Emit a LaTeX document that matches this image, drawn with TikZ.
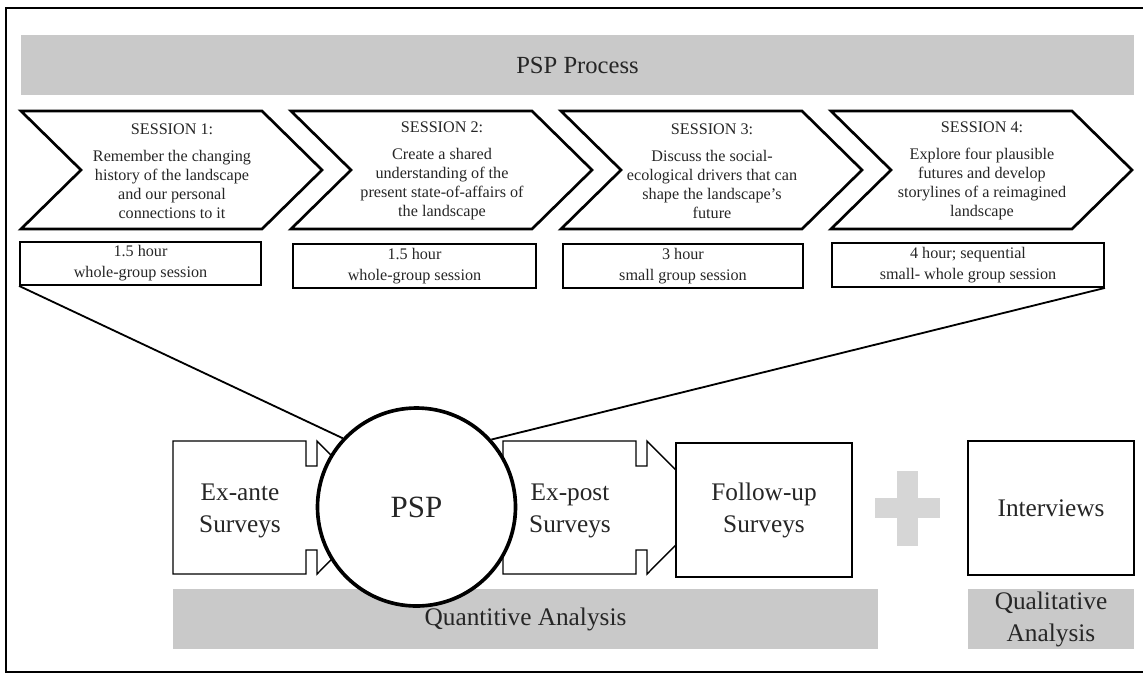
\documentclass[tikz,border=0pt]{standalone}
\usepackage{fontspec}
\setmainfont{Liberation Serif}
\usetikzlibrary{positioning}

\definecolor{bargray}{RGB}{201,201,201}
\definecolor{plusgray}{RGB}{214,214,214}
\definecolor{inkgray}{RGB}{38,38,38}

\tikzset{
  chevron/.style={draw=black, fill=white, line width=1.9pt, line join=miter},
  chevtext/.style={align=center, text=inkgray, font=\fontsize{11.5}{13.5}\selectfont},
  durbox/.style={draw, line width=1.3pt, inner sep=0pt, align=center, text=inkgray, font=\fontsize{11.5}{15}\selectfont},
  graybar/.style={fill=bargray, inner sep=0pt, align=center, text=inkgray, font=\fontsize{18}{22.7}\selectfont},
  survey/.style={draw, fill=white, line width=1pt},
  surveytext/.style={align=center, text=inkgray, font=\fontsize{18}{22.7}\selectfont},
  pspcircle/.style={circle, draw, fill=white, line width=2.6pt, inner sep=0pt, text=inkgray, font=\fontsize{22}{26}\selectfont},
  conn/.style={line width=1.3pt}
}

\begin{document}
\begin{tikzpicture}[x=0.025cm, y=-0.025cm]
 \def\u{0.025cm}
 \useasboundingbox (0,0) rectangle (1143,673);

 %frame
 \draw[line width=1.4pt] (6,8) rectangle (1152,672);

 %top bar
 \node[graybar, minimum width=1113*\u, minimum height=60*\u, font=\fontsize{17.5}{21}\selectfont] (procbar) at (577.5,65) {PSP Process};

 %sessions
 \foreach \i/\name in {1/{Remember the changing\\history of the landscape\\and our personal\\connections to it},
                       2/{Create a shared\\understanding of the\\present state-of-affairs of\\the landscape},
                       3/{Discuss the social-\\ecological drivers that can\\shape the landscape’s\\future},
                       4/{Explore four plausible\\futures and develop\\storylines of a reimagined\\landscape}} {
         \pgfmathsetmacro{\dx}{21+270*(\i-1)}
         \draw[chevron] (\dx,111) -- (\dx+241,111) -- (\dx+301,170) -- (\dx+241,229) -- (\dx,229) -- (\dx+60,170) -- cycle;
         \node[chevtext] (s\i) at (\dx+151,171) {SESSION \i:\\[5.5pt]\name};
 }

 %durations
 \foreach \i/\xa/\xb/\ya/\yb/\name in {1/20/261/242/285/{1.5 hour\\whole-group session},
                                       2/293/536/244/288/{1.5 hour\\whole-group session},
                                       3/563/803/244/288/{3 hour\\small group session},
                                       4/832/1104/243/287/{4 hour; sequential\\small- whole group session}} {
         \node[durbox, minimum width={(\xb-\xa)*\u}, minimum height={(\yb-\ya)*\u}] (d\i) at ({(\xa+\xb)/2},{(\ya+\yb)/2}) {\name};
 }

 %analysis bars
 \node[graybar, minimum width=705*\u, minimum height=60*\u] (quant) at (525.5,619) {\raisebox{-3pt}{Quantitive Analysis}};
 \node[graybar, minimum width=166*\u, minimum height=60*\u] (qual) at (1051,619) {Qualitative\\Analysis};

 %surveys
 \foreach \dx in {173, 503} {
         \draw[survey] (\dx,441) -- (\dx+133,441) -- (\dx+133,466) -- (\dx+144,466) -- (\dx+144,441) -- (\dx+210,507.5)
                       -- (\dx+144,574) -- (\dx+144,550) -- (\dx+133,550) -- (\dx+133,574) -- (\dx,574) -- cycle;
 }
 \node[surveytext] (exante) at (240,511) {Ex-ante\\Surveys};
 \node[surveytext] (expost) at (570,511) {Ex-post\\Surveys};
 \node[survey, surveytext, minimum width=176*\u, minimum height=134*\u, inner sep=0pt] (followup) at (764,510) {Follow-up\\Surveys};
 \node[survey, surveytext, minimum width=166*\u, minimum height=134*\u, inner sep=0pt] (interviews) at (1051,508) {Interviews};

 %plus
 \fill[plusgray] (897,471) rectangle (918,546);
 \fill[plusgray] (875,498) rectangle (940,518);

 %psp
 \node[pspcircle, minimum size=198*\u] (psp) at (416.5,507) {PSP};

 %zoom lines
 \draw[conn] (d1.south west) -- (psp.137);
 \draw[conn] (d4.south east) -- (psp.42);

\end{tikzpicture}
\end{document}
